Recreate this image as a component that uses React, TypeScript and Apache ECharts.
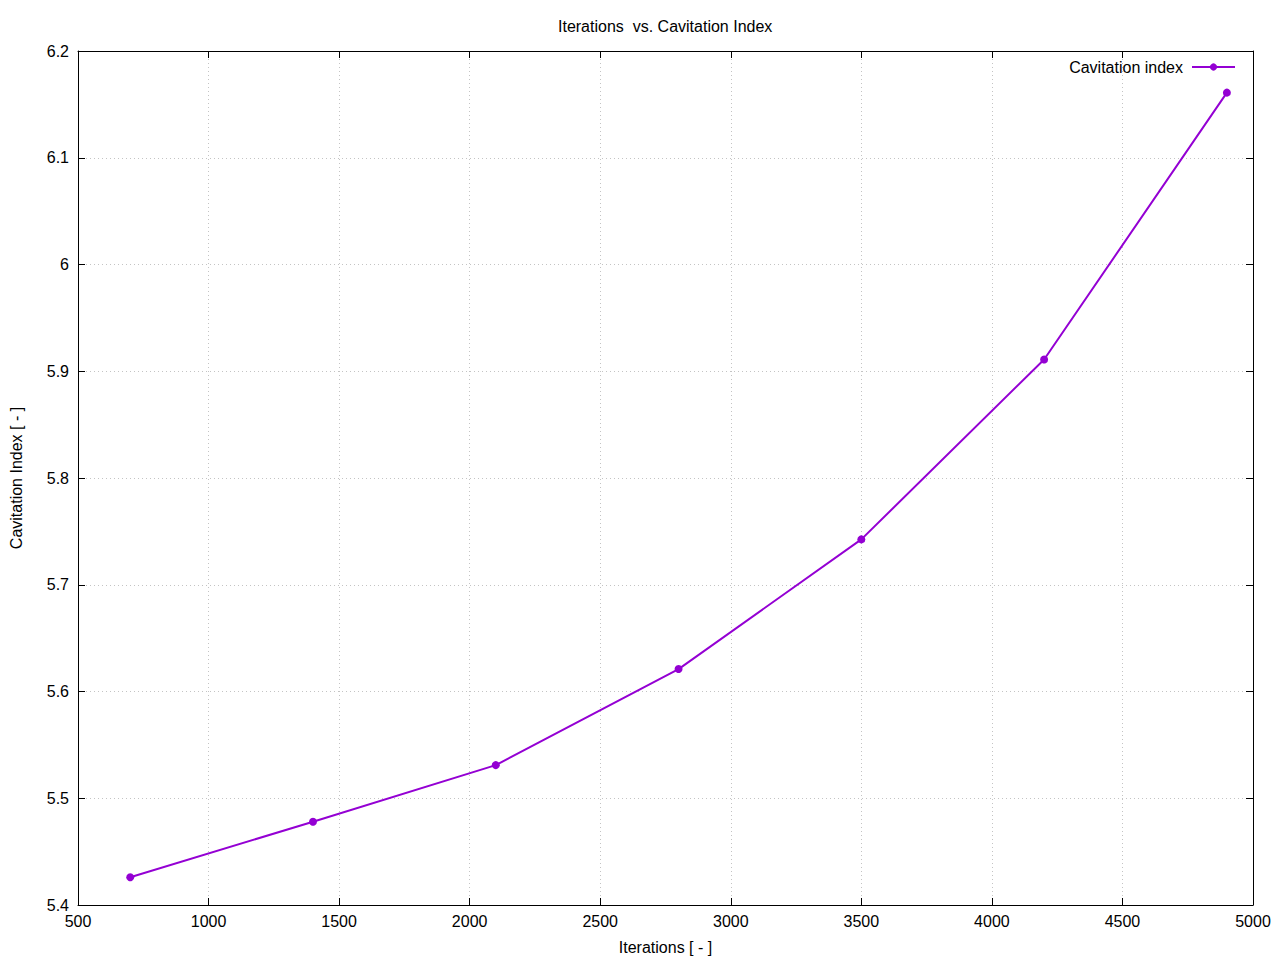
import React, { useEffect, useRef } from "react";
import * as echarts from "echarts";

const iterations = [700, 1400, 2100, 2800, 3500, 4200, 4900];
const cavitationIndex = [5.426, 5.478, 5.531, 5.621, 5.7425, 5.911, 6.161];
const seriesName = "Cavitation index";
const titleText = "Iterations  vs. Cavitation Index";
const xName = "Iterations [ - ]";
const yName = "Cavitation Index [ - ]";

const FONT = "Liberation Sans, Arial, sans-serif";
const COLOR = "#9400d3";
const FS = 16;

export default function App() {
  const ref = useRef<HTMLDivElement>(null);
  useEffect(() => {
    if (!ref.current) return;
    const chart = echarts.init(ref.current, undefined, { renderer: "svg" });
    const tickStyle = { show: true, inside: true, length: 7, lineStyle: { color: "#000", width: 1 } };
    const axisLine = { show: true, lineStyle: { color: "#000", width: 1 } };
    const split = { show: true, lineStyle: { color: "#c4c4c4", type: [1, 3] as any, width: 1 } };
    chart.setOption({
      animation: false,
      backgroundColor: "#fff",
      title: {
        text: titleText,
        left: 553,
        top: 13,
        textStyle: { fontFamily: FONT, fontSize: FS, fontWeight: "normal", color: "#000" },
      },
      legend: {
        data: [seriesName],
        right: 39,
        top: 54,
        align: "right",
        itemWidth: 43,
        itemHeight: 9,
        textStyle: { fontFamily: FONT, fontSize: FS, color: "#000", padding: [0, 4, 0, 0] },
      },
      grid: { left: 76, right: 27, top: 51, bottom: 54, containLabel: false },
      xAxis: [
        {
          type: "value",
          min: 500,
          max: 5000,
          interval: 500,
          name: xName,
          nameLocation: "middle",
          nameGap: 34,
          nameTextStyle: { fontFamily: FONT, fontSize: FS, color: "#000" },
          axisLine,
          axisTick: tickStyle,
          splitLine: split,
          axisLabel: { fontFamily: FONT, fontSize: FS, color: "#000", margin: 8, formatter: (v: number) => String(v) },
        },
        {
          type: "value",
          position: "top",
          min: 500,
          max: 5000,
          interval: 500,
          axisLine,
          axisTick: tickStyle,
          splitLine: { show: false },
          axisLabel: { show: false },
        },
      ],
      yAxis: [
        {
          type: "value",
          min: 5.4,
          max: 6.2,
          interval: 0.1,
          name: yName,
          nameLocation: "middle",
          nameGap: 54,
          nameRotate: 90,
          nameTextStyle: { fontFamily: FONT, fontSize: FS, color: "#000" },
          axisLine,
          axisTick: tickStyle,
          splitLine: split,
          axisLabel: {
            fontFamily: FONT,
            fontSize: FS,
            color: "#000",
            margin: 9,
            formatter: (v: number) => String(Math.round(v * 10) / 10),
          },
        },
        {
          type: "value",
          position: "right",
          min: 5.4,
          max: 6.2,
          interval: 0.1,
          axisLine,
          axisTick: tickStyle,
          splitLine: { show: false },
          axisLabel: { show: false },
        },
      ],
      series: [
        {
          name: seriesName,
          type: "line",
          data: iterations.map((x, i) => [x, cavitationIndex[i]]),
          symbol: "circle",
          symbolSize: 8,
          color: COLOR,
          lineStyle: { color: COLOR, width: 2 },
          itemStyle: { color: COLOR },
        },
      ],
    });
    return () => chart.dispose();
  }, []);
  return (
    <div
      ref={ref}
      style={{ position: "fixed", left: 0, top: 0, width: 1280, height: 960, background: "#fff" }}
    />
  );
}
